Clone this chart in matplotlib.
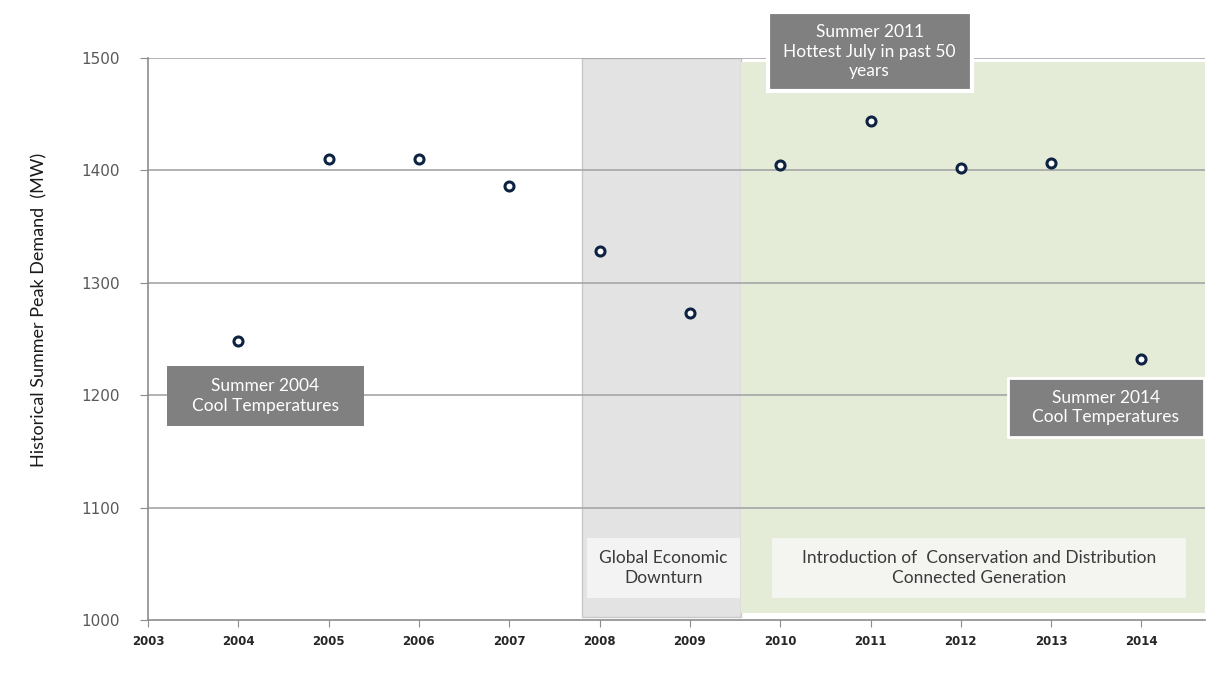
import matplotlib
matplotlib.use("Agg")
import matplotlib.pyplot as plt
from matplotlib.patches import Rectangle

# Summer peak demand by year (MW)
years = [2004, 2005, 2006, 2007, 2008, 2009, 2010, 2011, 2012, 2013, 2014]
peak_mw = [1248, 1410, 1410, 1386, 1328, 1273, 1405, 1444, 1402, 1407, 1232]

x_ticks = list(range(2003, 2015))
y_ticks = [1000, 1100, 1200, 1300, 1400, 1500]

# Shaded periods
downturn_span = (2007.8, 2009.57)
cdm_span = (2009.57, 2014.7)

LABEL_FONT = ["Lato", "DejaVu Sans"]

fig = plt.figure(figsize=(12.07, 6.83), dpi=100)
ax = fig.add_axes([0.1226, 0.0922, 0.8755, 0.8229])
ax.set_xlim(2003, 2014.7)
ax.set_ylim(1000, 1500)

# Background periods
ax.axvspan(*downturn_span, ymin=0.005, ymax=1.0, facecolor="#e3e3e3",
           edgecolor="#c9c9c9", linewidth=1, zorder=0)
ax.axvspan(*cdm_span, ymin=0.012, ymax=0.992, facecolor="#e4ebd6",
           edgecolor="none", zorder=0)

# Horizontal gridlines
for y in y_ticks[1:]:
    ax.axhline(y, color="#a6a6a6", linewidth=1.2, zorder=1)

ax.plot(years, peak_mw, linestyle="none", marker="o", markersize=6.5,
        markerfacecolor="white", markeredgecolor="#0e2341",
        markeredgewidth=2.2, zorder=5)

for s in ["top", "right"]:
    ax.spines[s].set_visible(False)
for s in ["left", "bottom"]:
    ax.spines[s].set_color("#8c8c8c")
    ax.spines[s].set_linewidth(1.2)

ax.set_xticks(x_ticks)
ax.set_yticks(y_ticks)
ax.tick_params(axis="x", direction="out", length=5, color="#8c8c8c",
               labelsize=8.5, pad=6)
ax.tick_params(axis="y", direction="out", length=6, color="#8c8c8c",
               labelsize=11, labelcolor="#595959", pad=14)
for lbl in ax.get_xticklabels():
    lbl.set_fontfamily("DejaVu Sans")
    lbl.set_fontweight("bold")
    lbl.set_color("#262626")
for lbl in ax.get_yticklabels():
    lbl.set_fontfamily("DejaVu Sans")

ax.set_ylabel("Historical Summer Peak Demand  (MW)", family=LABEL_FONT,
              fontsize=13, color="#1a1a1a")
ax.yaxis.set_label_coords(-0.095, 0.552)


def note(x0, x1, y0, y1, text, face, edge, txtcolor, lw=0, alpha=1.0):
    ax.add_patch(Rectangle((x0, y0), x1 - x0, y1 - y0, facecolor=face,
                           edgecolor=edge, linewidth=lw, alpha=alpha,
                           zorder=6, clip_on=False))
    ax.text((x0 + x1) / 2, (y0 + y1) / 2, text, ha="center", va="center",
            color=txtcolor, family=LABEL_FONT, fontsize=12.5,
            linespacing=1.3, zorder=7, clip_on=False)


note(2003.21, 2005.39, 1172.6, 1226, "Summer 2004\nCool Temperatures",
     "#808080", "none", "white")
note(2009.86, 2012.12, 1470.6, 1540.9,
     "Summer 2011\nHottest July in past 50\nyears",
     "#808080", "white", "white", lw=3)
note(2012.52, 2014.69, 1162.8, 1215.3, "Summer 2014\nCool Temperatures",
     "#808080", "white", "white", lw=2)
note(2007.86, 2009.55, 1019.6, 1073, "Global Economic\nDownturn",
     "#f7f7f7", "none", "#3a3a3a", alpha=0.85)
note(2009.91, 2014.49, 1019.6, 1073,
     "Introduction of  Conservation and Distribution\nConnected Generation",
     "#f7f7f7", "none", "#3a3a3a", alpha=0.85)

fig.savefig("out.png", dpi=100, facecolor="white")
